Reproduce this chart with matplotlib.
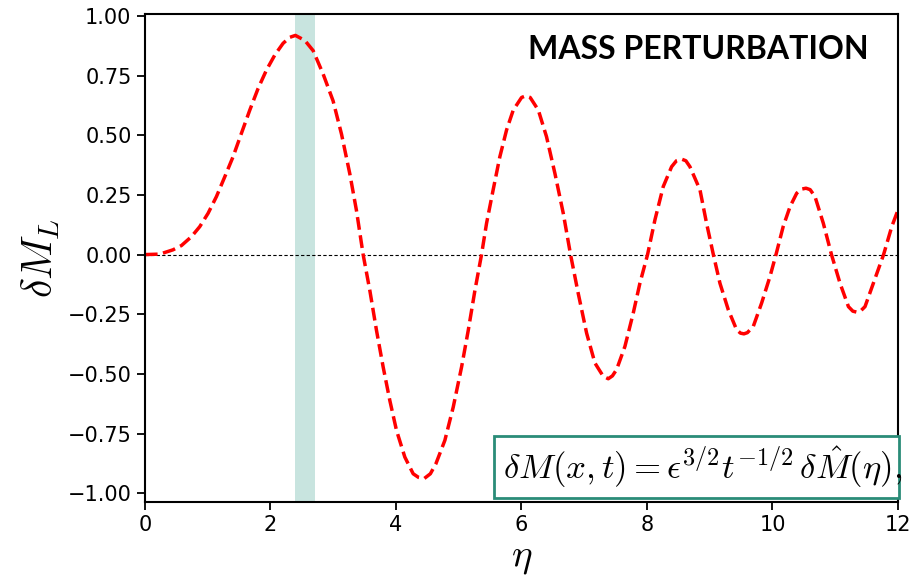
#!/usr/bin/env python3
"""
Mass perturbation profile delta M_L versus similarity variable eta
"""
import matplotlib
matplotlib.use("Agg")
import matplotlib.pyplot as plt
from matplotlib.patches import Rectangle

plt.rcParams['mathtext.fontset'] = 'cm'

# profile
eta = [0.0, 0.24, 0.45, 0.585, 0.744, 0.876, 1.009, 1.142, 1.275, 1.407,
       1.54, 1.673, 1.806, 1.939, 2.072, 2.204, 2.311, 2.40, 2.55, 2.683,
       2.842, 3.0, 3.134, 3.267, 3.373, 3.479, 3.586, 3.692, 3.798, 3.904,
       4.01, 4.143, 4.276, 4.36, 4.452, 4.55, 4.638, 4.781, 4.914, 5.047,
       5.153, 5.259, 5.365, 5.445, 5.55, 5.657, 5.764, 5.87, 6.003, 6.07,
       6.14, 6.27, 6.4, 6.534, 6.667, 6.783, 6.905, 7.039, 7.171, 7.304,
       7.384, 7.45, 7.516, 7.649, 7.782, 7.888, 8.01, 8.127, 8.26, 8.393,
       8.47, 8.55, 8.62, 8.685, 8.845, 8.95, 9.058, 9.163, 9.296, 9.429,
       9.49, 9.545, 9.60, 9.694, 9.827, 9.96, 10.056, 10.17, 10.28, 10.386,
       10.46, 10.534, 10.60, 10.677, 10.81, 10.94, 11.076, 11.21, 11.28,
       11.342, 11.40, 11.474, 11.607, 11.77, 11.9, 12.0]
dM = [0.0, 0.002, 0.02, 0.038, 0.075, 0.117, 0.173, 0.243, 0.326, 0.41,
      0.508, 0.605, 0.696, 0.773, 0.836, 0.885, 0.91, 0.918, 0.897, 0.854,
      0.756, 0.644, 0.505, 0.338, 0.184, 0.0, -0.151, -0.318, -0.471, -0.611,
      -0.736, -0.848, -0.918, -0.933, -0.938, -0.918, -0.876, -0.778, -0.639, -0.471,
      -0.318, -0.151, 0.0, 0.131, 0.271, 0.41, 0.522, 0.605, 0.658, 0.665,
      0.658, 0.605, 0.494, 0.34, 0.173, 0.0, -0.162, -0.329, -0.454, -0.51,
      -0.52, -0.508, -0.482, -0.385, -0.245, -0.12, 0.0, 0.145, 0.285, 0.368,
      0.393, 0.40, 0.393, 0.368, 0.271, 0.131, 0.0, -0.12, -0.231, -0.315,
      -0.329, -0.332, -0.327, -0.301, -0.203, -0.092, 0.0, 0.117, 0.201, 0.257,
      0.274, 0.278, 0.272, 0.243, 0.131, 0.0, -0.12, -0.218, -0.237,
      -0.241, -0.237, -0.218, -0.12, 0.0, 0.117, 0.187]

band = (2.39, 2.72)

fig = plt.figure(figsize=(9.22, 5.80), dpi=100)
ax = fig.add_axes([0.157, 0.135, 0.817, 0.841])

ax.axvspan(band[0], band[1], color='#c8e4df', lw=0, zorder=0)
ax.axhline(0, color='black', ls='--', lw=0.8, dashes=(3, 2), zorder=1)
ax.plot(eta, dM, color='red', ls='--', lw=2.5, zorder=2)

ax.set_xlim(0, 12)
ax.set_ylim(-1.035, 1.008)
ax.set_xticks([0, 2, 4, 6, 8, 10, 12])
ax.set_yticks([-1.0, -0.75, -0.5, -0.25, 0.0, 0.25, 0.5, 0.75, 1.0])
ax.tick_params(labelsize=15, length=6, width=1.3)
for s in ax.spines.values():
    s.set_linewidth(1.5)

ax.set_xlabel(r'$\eta$', fontsize=28, labelpad=2)
ax.set_ylabel(r'$\delta M_L$', fontsize=30, labelpad=4)

ax.text(0.9615, 0.927, 'MASS PERTURBATION', transform=ax.transAxes,
        ha='right', va='center', fontsize=23, fontweight='bold', family='Lato')

# scaling relation in a framed box (text clipped at the frame)
box = Rectangle((0.4635, 0.007), 0.5378, 0.127, transform=ax.transAxes,
                facecolor='white', edgecolor='#2a8c78', lw=2, zorder=5,
                clip_on=False)
ax.add_patch(box)
eq = ax.text(0.476, 0.072, r'$\delta M(x,t) = \epsilon^{3/2}t^{-1/2}\,\delta \hat{M}(\eta),$',
             transform=ax.transAxes, ha='left', va='center', fontsize=25, zorder=6)
eq.set_clip_path(box)

fig.savefig('out.png', dpi=100)
